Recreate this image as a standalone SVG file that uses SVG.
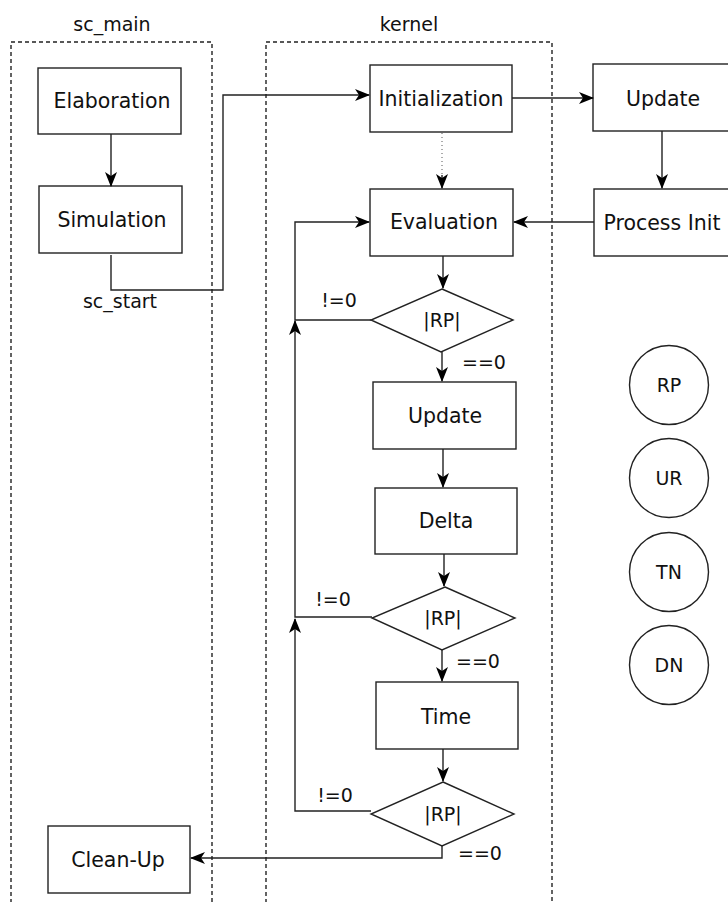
<svg xmlns="http://www.w3.org/2000/svg" width="728" height="902" viewBox="0 0 728 902">
<style>
.box{fill:#fff;stroke:#222;stroke-width:1.4}
.cont{fill:none;stroke:#222;stroke-width:1.4;stroke-dasharray:4,3}
.t{font-family:"DejaVu Sans",sans-serif;font-size:20.5px;fill:#111;text-anchor:middle}
.l{font-family:"DejaVu Sans",sans-serif;font-size:19px;fill:#111;text-anchor:middle}
.c{fill:none;stroke:#222;stroke-width:1.4}
.dot{fill:none;stroke:#888;stroke-width:1.4;stroke-dasharray:1,3}
</style>
<defs>
<marker id="ah" markerUnits="userSpaceOnUse" markerWidth="15" markerHeight="12" refX="14" refY="6" orient="auto">
<path d="M0,0 L15,6 L0,12 L4,6 Z" fill="#000"/>
</marker>
</defs>
<g id="sc_main">
<path class="cont" d="M11,910 V42 H212 V910"/>
<text class="l" x="112" y="31">sc_main</text>
</g>
<g id="kernel">
<path class="cont" d="M266,910 V42 H552 V910"/>
<text class="l" x="409" y="31">kernel</text>
</g>
<g id="elaboration"><rect class="box" x="38" y="68" width="143" height="66"/><text class="t" x="112" y="108">Elaboration</text></g>
<g id="simulation"><rect class="box" x="39" y="186" width="143" height="67"/><text class="t" x="112" y="227">Simulation</text></g>
<g id="initialization"><rect class="box" x="370" y="65" width="142" height="67"/><text class="t" x="441" y="106">Initialization</text></g>
<g id="update_init"><rect class="box" x="593" y="64" width="142" height="67"/><text class="t" x="663" y="106">Update</text></g>
<g id="process_init"><rect class="box" x="594" y="189" width="142" height="67"/><text class="t" x="662" y="230">Process Init</text></g>
<g id="evaluation"><rect class="box" x="370" y="189" width="143" height="67"/><text class="t" x="444" y="229">Evaluation</text></g>
<g id="rp1"><polygon class="box" points="442,289 513,320 441,352 371,320"/><text class="l" x="442" y="327">|RP|</text></g>
<g id="update"><rect class="box" x="373" y="382" width="143" height="67"/><text class="t" x="445" y="423">Update</text></g>
<g id="delta"><rect class="box" x="375" y="488" width="142" height="66"/><text class="t" x="446" y="528">Delta</text></g>
<g id="rp2"><polygon class="box" points="445,587 515,618 442,650 372,618"/><text class="l" x="443" y="625">|RP|</text></g>
<g id="time"><rect class="box" x="376" y="682" width="142" height="67"/><text class="t" x="446" y="724">Time</text></g>
<g id="rp3"><polygon class="box" points="443,782 514,814 442,846 371,814"/><text class="l" x="443" y="821">|RP|</text></g>
<g id="cleanup"><rect class="box" x="48" y="826" width="142" height="67"/><text class="t" x="118" y="867">Clean-Up</text></g>
<g id="circle_rp"><circle class="box" cx="669" cy="385" r="39.5"/><text class="l" x="669" y="392">RP</text></g>
<g id="circle_ur"><circle class="box" cx="669" cy="478" r="39.5"/><text class="l" x="669" y="485">UR</text></g>
<g id="circle_tn"><circle class="box" cx="669" cy="572" r="39.5"/><text class="l" x="669" y="579">TN</text></g>
<g id="circle_dn"><circle class="box" cx="669" cy="665" r="39.5"/><text class="l" x="669" y="672">DN</text></g>
<g id="connectors">
<path class="c" d="M111,134 V186" marker-end="url(#ah)"/>
<path class="c" d="M111,255 V290 H223 V95 H369" marker-end="url(#ah)"/>
<path class="c" d="M512,98 H593" marker-end="url(#ah)"/>
<path class="c" d="M662,131 V188" marker-end="url(#ah)"/>
<path class="c" d="M594,222 H514" marker-end="url(#ah)"/>
<path class="dot" d="M442,133 V175"/>
<path class="c" d="M442,175 V188" marker-end="url(#ah)"/>
<path class="c" d="M443,256 V288" marker-end="url(#ah)"/>
<path class="c" d="M371,320 H295 V222 H369" marker-end="url(#ah)"/>
<path class="c" d="M442,352 V381" marker-end="url(#ah)"/>
<path class="c" d="M443,449 V487" marker-end="url(#ah)"/>
<path class="c" d="M444,554 V586" marker-end="url(#ah)"/>
<path class="c" d="M372,617 H295 V321" marker-end="url(#ah)"/>
<path class="c" d="M442,650 V681" marker-end="url(#ah)"/>
<path class="c" d="M443,749 V781" marker-end="url(#ah)"/>
<path class="c" d="M371,811 H295 V619" marker-end="url(#ah)"/>
<path class="c" d="M442,846 V858 H191" marker-end="url(#ah)"/>
<text class="l" x="120" y="308">sc_start</text>
<text class="l" x="339" y="307">!=0</text>
<text class="l" x="484" y="369">==0</text>
<text class="l" x="333" y="606">!=0</text>
<text class="l" x="478" y="668">==0</text>
<text class="l" x="335" y="802">!=0</text>
<text class="l" x="480" y="860">==0</text>
</g>
</svg>
